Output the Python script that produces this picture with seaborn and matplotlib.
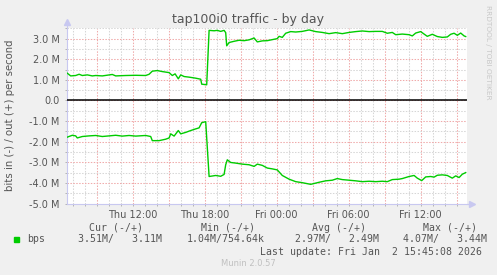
import matplotlib
matplotlib.use("Agg")
import matplotlib.pyplot as plt
import matplotlib.dates as mdates
from matplotlib.ticker import MultipleLocator, FuncFormatter
from matplotlib.patches import Rectangle
import seaborn as sns
import pandas as pd

# ---------------- data ----------------
out_times = ["Thu 06:33", "Thu 06:50", "Thu 07:15", "Thu 07:32", "Thu 07:48", "Thu 08:13",
             "Thu 08:38", "Thu 08:55", "Thu 09:28", "Thu 10:18", "Thu 10:35", "Thu 11:25",
             "Thu 12:15", "Thu 13:05", "Thu 13:22", "Thu 13:38", "Thu 14:03", "Thu 14:28",
             "Thu 15:02", "Thu 15:18", "Thu 15:32", "Thu 15:48", "Thu 16:00", "Thu 16:17",
             "Thu 16:42", "Thu 17:15", "Thu 17:40", "Thu 17:45", "Thu 18:10", "Thu 18:22",
             "Thu 18:47", "Thu 19:03", "Thu 19:20", "Thu 19:37", "Thu 19:45", "Thu 19:50",
             "Thu 20:02", "Thu 20:27", "Thu 20:52", "Thu 21:17", "Thu 21:42", "Thu 22:07",
             "Thu 22:23", "Thu 22:48", "Thu 23:13", "Thu 23:38", "Fri 00:03", "Fri 00:12",
             "Fri 00:28", "Fri 00:45", "Fri 01:10", "Fri 01:35", "Fri 02:08", "Fri 02:42",
             "Fri 03:15", "Fri 03:48", "Fri 04:22", "Fri 04:55", "Fri 05:28", "Fri 06:02",
             "Fri 06:35", "Fri 07:08", "Fri 07:42", "Fri 08:15", "Fri 08:48", "Fri 09:13",
             "Fri 09:38", "Fri 09:55", "Fri 10:28", "Fri 11:02", "Fri 11:18", "Fri 11:35",
             "Fri 12:00", "Fri 12:17", "Fri 12:33", "Fri 12:58", "Fri 13:23", "Fri 13:48",
             "Fri 14:13", "Fri 14:30", "Fri 14:47", "Fri 15:03", "Fri 15:20", "Fri 15:37",
             "Fri 15:45"]
out_mbps = [1.32, 1.19, 1.21, 1.27, 1.21, 1.24, 1.19, 1.21, 1.19, 1.26, 1.19, 1.21,
            1.22, 1.21, 1.27, 1.42, 1.45, 1.40, 1.35, 1.21, 1.29, 1.05, 1.24, 1.16,
            1.13, 1.08, 1.03, 0.79, 0.76, 3.40, 3.38, 3.40, 3.35, 3.40, 3.29, 2.65,
            2.81, 2.87, 2.92, 2.90, 2.94, 3.03, 2.84, 2.89, 2.90, 2.95, 3.00, 3.11,
            3.06, 3.26, 3.34, 3.32, 3.35, 3.42, 3.34, 3.30, 3.24, 3.29, 3.24, 3.30,
            3.34, 3.37, 3.34, 3.35, 3.35, 3.26, 3.30, 3.19, 3.22, 3.19, 3.13, 3.27,
            3.34, 3.22, 3.11, 3.21, 3.10, 3.06, 3.08, 3.21, 3.26, 3.16, 3.27, 3.13,
            3.10]

in_times = ["Thu 06:33", "Thu 06:58", "Thu 07:15", "Thu 07:23", "Thu 07:48", "Thu 08:22",
            "Thu 08:55", "Thu 09:28", "Thu 10:02", "Thu 10:35", "Thu 11:08", "Thu 11:42",
            "Thu 12:15", "Thu 13:05", "Thu 13:30", "Thu 13:38", "Thu 14:12", "Thu 14:45",
            "Thu 15:02", "Thu 15:10", "Thu 15:27", "Thu 15:48", "Thu 16:00", "Thu 16:25",
            "Thu 16:50", "Thu 17:15", "Thu 17:32", "Thu 17:45", "Thu 18:05", "Thu 18:22",
            "Thu 18:55", "Thu 19:20", "Thu 19:37", "Thu 19:45", "Thu 19:53", "Thu 20:10",
            "Thu 20:35", "Thu 21:08", "Thu 21:42", "Thu 22:07", "Thu 22:23", "Thu 22:48",
            "Thu 23:13", "Thu 23:38", "Fri 00:03", "Fri 00:28", "Fri 01:02", "Fri 01:35",
            "Fri 02:08", "Fri 02:50", "Fri 03:32", "Fri 04:05", "Fri 04:38", "Fri 05:03",
            "Fri 05:28", "Fri 06:02", "Fri 06:35", "Fri 07:08", "Fri 07:42", "Fri 08:15",
            "Fri 08:48", "Fri 09:13", "Fri 09:38", "Fri 10:12", "Fri 10:28", "Fri 11:02",
            "Fri 11:27", "Fri 11:43", "Fri 12:05", "Fri 12:25", "Fri 12:50", "Fri 13:07",
            "Fri 13:23", "Fri 13:48", "Fri 14:13", "Fri 14:38", "Fri 14:55", "Fri 15:12",
            "Fri 15:28", "Fri 15:45"]
in_mbps = [-1.78, -1.69, -1.72, -1.82, -1.75, -1.72, -1.70, -1.75, -1.72, -1.69, -1.73, -1.70,
           -1.73, -1.70, -1.75, -1.95, -1.95, -1.88, -1.82, -1.62, -1.73, -1.46, -1.62, -1.55,
           -1.46, -1.38, -1.33, -1.08, -1.03, -3.69, -3.64, -3.68, -3.59, -3.12, -2.88, -3.01,
           -3.04, -3.09, -3.12, -3.20, -3.09, -3.15, -3.28, -3.32, -3.37, -3.64, -3.82, -3.94,
           -3.99, -4.07, -3.97, -3.90, -3.87, -3.79, -3.84, -3.87, -3.90, -3.94, -3.92, -3.94,
           -3.92, -3.94, -3.84, -3.82, -3.79, -3.69, -3.64, -3.77, -3.89, -3.71, -3.69, -3.72,
           -3.63, -3.61, -3.64, -3.77, -3.66, -3.74, -3.58, -3.50]

legend_headers = ["Cur (-/+)", "Min (-/+)", "Avg (-/+)", "Max (-/+)"]
legend_values = ["3.51M/   3.11M", "1.04M/754.64k", "2.97M/   2.49M", "4.07M/   3.44M"]
series_label = "bps"
title = "tap100i0 traffic - by day"
ylabel = "bits in (-) / out (+) per second"
last_update = "Last update: Fri Jan  2 15:45:08 2026"
footer = "Munin 2.0.57"
side_text = "RRDTOOL / TOBI OETIKER"
x_start, x_end = "2026-01-01 06:30", "2026-01-02 15:50"

# ---------------- build frames ----------------
DAY = {"Thu": "2026-01-01", "Fri": "2026-01-02"}


def to_ts(lst):
    return pd.to_datetime([DAY[s.split()[0]] + " " + s.split()[1] for s in lst])


df = pd.concat([
    pd.DataFrame({"time": to_ts(out_times), "bps": [v * 1e6 for v in out_mbps], "dir": "out"}),
    pd.DataFrame({"time": to_ts(in_times), "bps": [v * 1e6 for v in in_mbps], "dir": "in"}),
], ignore_index=True)

# ---------------- figure ----------------
W, H = 497, 275
BG = "#F0F0F0"
GREEN = "#00CC00"
TXT = "#555555"
AXC = "#C8C8F0"

fig = plt.figure(figsize=(W / 100, H / 100), dpi=100, facecolor=BG)


def fx(px):
    return px / W


def fy(py):
    return 1 - py / H


L, R, T, B = 66.7, 466.7, 28.3, 203.5
ax = fig.add_axes([fx(L), fy(B), fx(R) - fx(L), fy(T) - fy(B)])
ax.set_facecolor("white")

sns.lineplot(data=df, x="time", y="bps", hue="dir", palette={"out": GREEN, "in": GREEN},
             estimator=None, legend=False, linewidth=1.0, ax=ax, zorder=5)

ax.set_xlim(pd.Timestamp(x_start), pd.Timestamp(x_end))
ax.set_ylim(-5e6, 3.5e6)
ax.axhline(0, color="black", lw=1.1, zorder=4)

# y axis
ax.yaxis.set_major_locator(MultipleLocator(1e6))
ax.yaxis.set_minor_locator(MultipleLocator(0.5e6))
ax.yaxis.set_major_formatter(FuncFormatter(lambda v, p: "0.0" if abs(v) < 1 else f"{v / 1e6:.1f} M"))

# x axis
ax.xaxis.set_major_locator(mdates.HourLocator(byhour=range(0, 24, 3)))
ax.xaxis.set_minor_locator(mdates.HourLocator())


def xfmt(v, p):
    d = mdates.num2date(v)
    return d.strftime("%a %H:%M") if d.hour % 6 == 0 else ""


ax.xaxis.set_major_formatter(FuncFormatter(xfmt))

dots = (0, (1.4, 1.4))
ax.grid(True, which="minor", color="#D6D6D6", lw=0.75, linestyle=dots)
ax.grid(True, which="major", color="#F0AAAA", lw=0.75, linestyle=dots)
ax.set_axisbelow(True)

ax.tick_params(which="both", direction="out", colors="#AAAAAA", labelcolor=TXT, labelsize=7,
               length=1.5, width=0.6)
ax.tick_params(axis="y", pad=3.5)
ax.tick_params(axis="x", pad=3.5)
ax.set_xlabel("")
ax.set_ylabel("")

for s in ("top", "right"):
    ax.spines[s].set_visible(False)
for s in ("left", "bottom"):
    ax.spines[s].set_color(AXC)
    ax.spines[s].set_linewidth(0.8)

# axis arrows
ax.plot([0, 0], [1, 1.02], transform=ax.transAxes, color=AXC, lw=0.8, clip_on=False)
ax.plot(0, 1.035, marker="^", markersize=4.5, color=AXC, transform=ax.transAxes, clip_on=False)
ax.plot([1, 1.006], [0, 0], transform=ax.transAxes, color=AXC, lw=0.8, clip_on=False)
ax.plot(1.0135, 0, marker=">", markersize=4.5, color=AXC, transform=ax.transAxes, clip_on=False)

# texts
fig.text(0.498, fy(19.5), title, ha="center", va="center", fontsize=9, color=TXT,
         family="DejaVu Sans")
fig.text(fx(10), fy(115.5), ylabel, ha="center", va="center", rotation=90, fontsize=7.3,
         color=TXT, family="DejaVu Sans")
fig.text(fx(488), fy(5), side_text, ha="center", va="top", rotation=270, fontsize=5.3,
         color="#C8C8C8", family="DejaVu Sans")

MONO = "DejaVu Sans Mono"
MS = 7.1
for txt, px in zip(legend_headers, [89.3, 201, 312.3, 422.7]):
    fig.text(fx(px), fy(227.7), txt, ha="left", va="center", fontsize=MS, color=TXT, family=MONO)
fig.patches.append(Rectangle((fx(14), fy(242)), 5 / W, 5 / H, transform=fig.transFigure,
                             color=GREEN, figure=fig))
fig.text(fx(26.7), fy(239.3), series_label, ha="left", va="center", fontsize=MS, color=TXT,
         family=MONO)
for txt, px in zip(legend_values, [78.3, 186.7, 295, 402.7]):
    fig.text(fx(px), fy(239.3), txt, ha="left", va="center", fontsize=MS, color=TXT, family=MONO)
fig.text(fx(482.5), fy(251.7), last_update, ha="right", va="center", fontsize=MS, color=TXT,
         family=MONO)
fig.text(fx(248), fy(264), footer, ha="center", va="center", fontsize=6, color="#C0C0C0",
         family="DejaVu Sans")

fig.savefig("out.png", dpi=100, facecolor=BG)
